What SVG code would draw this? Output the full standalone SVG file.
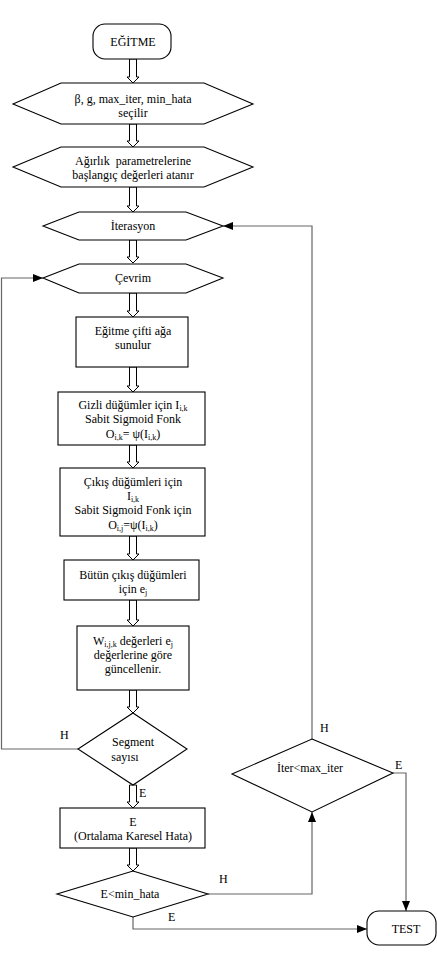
<svg xmlns="http://www.w3.org/2000/svg" width="437" height="954" viewBox="0 0 437 954">
<defs>
<style>
.s{fill:#fff;stroke:#000;stroke-width:1.1}
.ba{fill:#fff;stroke:#000;stroke-width:1}
.c{fill:none;stroke:#666;stroke-width:1.2}
text{font-family:'Liberation Serif',serif;font-size:12px;fill:#000;text-anchor:middle}
.sub{font-size:8px}
.lb{text-anchor:start}
</style>
<marker id="ah" viewBox="0 0 10 8" refX="10" refY="4" markerWidth="10" markerHeight="8" markerUnits="userSpaceOnUse" orient="auto">
<path d="M0,0 L10,4 L0,8 Z" fill="#000"/>
</marker>
</defs>
<rect width="437" height="954" fill="#fff"/>

<g font-family="Liberation Serif, serif">
<g id="connectors">
<path class="ba" d="M129.5,59 V77 H127 L133,83 L139,77 H136.5 V59 Z"/>
<path class="ba" d="M129.5,124 V141 H127 L133,147 L139,141 H136.5 V124 Z"/>
<path class="ba" d="M129.5,187 V206 H127 L133,212 L139,206 H136.5 V187 Z"/>
<path class="ba" d="M129.5,240 V257 H127 L133,263 L139,257 H136.5 V240 Z"/>
<path class="ba" d="M129.5,293 V311 H127 L133,317 L139,311 H136.5 V293 Z"/>
<path class="ba" d="M129.5,367 V386 H127 L133,392 L139,386 H136.5 V367 Z"/>
<path class="ba" d="M129.5,445 V462 H127 L133,468 L139,462 H136.5 V445 Z"/>
<path class="ba" d="M129.5,536 V554 H127 L133,560 L139,554 H136.5 V536 Z"/>
<path class="ba" d="M129.5,600 V620 H127 L133,626 L139,620 H136.5 V600 Z"/>
<path class="ba" d="M129.5,690 V707 H127 L133,713 L139,707 H136.5 V690 Z"/>
<path class="ba" d="M129.5,785 V802 H127 L133,808 L139,802 H136.5 V785 Z"/>
<path class="ba" d="M129.5,848 V865 H127 L133,871 L139,865 H136.5 V848 Z"/>
<path class="c" d="M78,749 H1.5 V278 H43" marker-end="url(#ah)"/>
<path class="c" d="M208,894 H312 V812" marker-end="url(#ah)"/>
<path class="c" d="M312,739 V226 H223" marker-end="url(#ah)"/>
<path class="c" d="M393,773 H406 V911" marker-end="url(#ah)"/>
<path class="c" d="M133,917 V929 H367" marker-end="url(#ah)"/>
<text class="lb" x="60" y="739">H</text>
<text class="lb" x="139" y="797">E</text>
<text class="lb" x="219" y="883">H</text>
<text class="lb" x="168" y="921">E</text>
<text class="lb" x="320" y="732">H</text>
<text class="lb" x="395" y="769">E</text>
</g>

<g id="egitme">
<rect class="s" x="93" y="24" width="78" height="35" rx="12"/>
<text x="133" y="46">EĞİTME</text>
</g>

<g id="secilir">
<polygon class="s" points="13,104 61,83 204,83 253,104 204,124 61,124"/>
<text x="133" y="103">β, g, max_iter, min_hata</text>
<text x="133" y="117">seçilir</text>
</g>

<g id="agirlik">
<polygon class="s" points="13,167 61,147 204,147 253,167 204,187 61,187"/>
<text x="133" y="165" xml:space="preserve">Ağırlık  parametrelerine</text>
<text x="133" y="179">başlangıç değerleri atanır</text>
</g>

<g id="iterasyon">
<polygon class="s" points="43,226 79,212 186,212 223,226 186,240 79,240"/>
<text x="133" y="230">İterasyon</text>
</g>

<g id="cevrim">
<polygon class="s" points="43,278 79,264 186,264 223,278 186,293 79,293"/>
<text x="133" y="282">Çevrim</text>
</g>

<g id="egitme-cifti">
<rect class="s" x="76" y="317" width="112" height="50"/>
<text x="133" y="335">Eğitme çifti ağa</text>
<text x="133" y="349">sunulur</text>
</g>

<g id="gizli">
<rect class="s" x="58" y="392" width="147" height="53"/>
<text x="133" y="409">Gizli düğümler için I<tspan class="sub" dy="2">i,k</tspan></text>
<text x="133" y="423">Sabit Sigmoid Fonk</text>
<text x="133" y="438">O<tspan class="sub" dy="2">i,k</tspan><tspan dy="-2">= ψ(I</tspan><tspan class="sub" dy="2">i,k</tspan><tspan dy="-2">)</tspan></text>
</g>

<g id="cikis">
<rect class="s" x="60" y="468" width="145" height="68"/>
<text x="133" y="486">Çıkış düğümleri için</text>
<text x="133" y="500">I<tspan class="sub" dy="2">i,k</tspan></text>
<text x="133" y="514">Sabit Sigmoid Fonk için</text>
<text x="133" y="529">O<tspan class="sub" dy="2">i,j</tspan><tspan dy="-2">=ψ(I</tspan><tspan class="sub" dy="2">i,k</tspan><tspan dy="-2">)</tspan></text>
</g>

<g id="butun">
<rect class="s" x="64" y="560" width="135" height="40"/>
<text x="133" y="579">Bütün çıkış düğümleri</text>
<text x="133" y="593">için e<tspan class="sub" dy="2">j</tspan></text>
</g>

<g id="guncelle">
<rect class="s" x="77" y="626" width="112" height="64"/>
<text x="133" y="645">W<tspan class="sub" dy="2">i,j,k</tspan><tspan dy="-2"> değerleri e</tspan><tspan class="sub" dy="2">j</tspan></text>
<text x="133" y="659">değerlerine göre</text>
<text x="133" y="673">güncellenir.</text>
</g>

<g id="segment">
<polygon class="s" points="133,713 187,749 133,785 78,749"/>
<text x="133" y="746">Segment</text>
<text x="125" y="761">sayısı</text>
</g>

<g id="ortalama">
<rect class="s" x="60" y="808" width="145" height="40"/>
<text x="133" y="826">E</text>
<text x="133" y="840">(Ortalama Karesel Hata)</text>
</g>

<g id="minhata">
<polygon class="s" points="133,871 208,894 133,917 57,894"/>
<text x="130" y="898">E&lt;min_hata</text>
</g>

<g id="maxiter">
<polygon class="s" points="312,739 393,773 312,812 232,774"/>
<text x="310" y="772">İter&lt;max_iter</text>
</g>

<g id="test">
<rect class="s" x="367" y="911" width="69" height="34" rx="12"/>
<text x="406" y="933">TEST</text>
</g>
</g>
</svg>
